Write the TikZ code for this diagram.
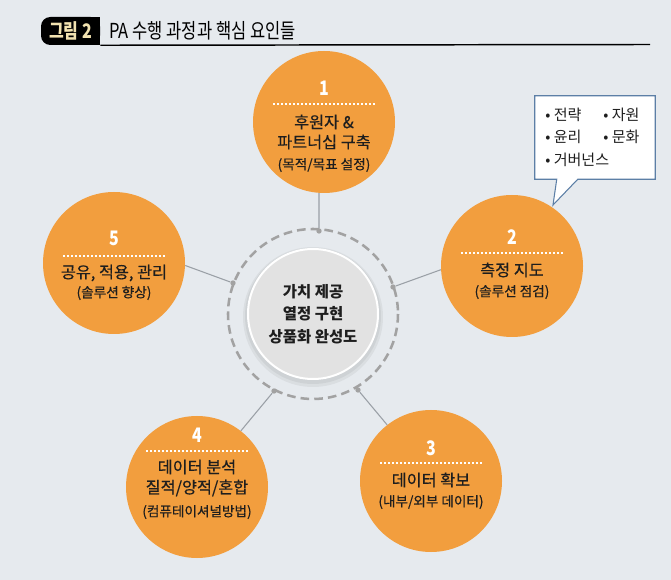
\documentclass[tikz,border=0pt]{standalone}
\usepackage{fontspec}
\setmainfont{Noto Sans CJK KR}
\newfontfamily\condfont{Noto Sans CJK KR}[FakeStretch=0.8]
\newfontfamily\medfont{Noto Sans CJK KR}[FakeBold=0.5]
\usetikzlibrary{calc}
\definecolor{bg}{HTML}{E6EAEE}
\definecolor{orng}{HTML}{F29E3E}
\definecolor{ringgray}{HTML}{A2A2A2}
\definecolor{linegray}{HTML}{9AA0A6}
\definecolor{diskgray}{HTML}{E2E2E2}
\definecolor{callborder}{HTML}{5C7FA6}
\definecolor{tabtext}{HTML}{F2E2B0}
\definecolor{txt}{HTML}{1E1E1E}
\begin{document}
\begin{tikzpicture}[x=0.75pt,y=-0.75pt,
  orb/.style={circle, fill=orng, minimum size=106.5pt, inner sep=0pt},
  numtxt/.style={text=white, font=\condfont\bfseries\fontsize{15}{16}\selectfont, inner sep=0pt},
  maintxt/.style={text=txt, font=\medfont\fontsize{12.2}{14}\selectfont, inner sep=0pt},
  subtxt/.style={text=txt, font=\medfont\fontsize{10.2}{12}\selectfont, inner sep=0pt},
  dotsep/.style={white, line width=1.5pt, dash pattern=on 1.4pt off 1.6pt},
  link/.style={linegray, line width=0.8pt},
  ringdot/.style={circle, fill=ringgray, inner sep=0pt, minimum size=4pt},
  calltext/.style={text=txt, font=\fontsize{11.3}{13}\selectfont, inner sep=0pt, anchor=west}]
\fill[bg] (0,0) rectangle (671,580);
\useasboundingbox (0,0) rectangle (671,580);

% title
\node[fill=black, rounded corners=7pt, minimum width=44.25pt, minimum height=21pt, inner sep=0pt] (tab) at (70.5,31) {};
\fill[black] (tab.north) rectangle (tab.south east);
\node[text=tabtext, font=\condfont\bfseries\fontsize{15}{16}\selectfont, inner sep=0pt] (tabtxt) at (tab.center) {그림 2};
\node[text=black, font=\condfont\fontsize{15.5}{16}\selectfont, inner sep=0pt, anchor=west] (title) at (109,31) {PA 수행 과정과 핵심 요인들};
\coordinate (lineend) at (650,44.5);
\draw[black, line width=1.1pt] (tab.south east) -- (lineend);

% center
\coordinate (ctr) at (313,314);
\fill[black, opacity=0.05] ($(ctr)+(0,3)$) circle[radius=70];
\fill[black, opacity=0.05] ($(ctr)+(0,2)$) circle[radius=68];
\draw[ringgray, line width=1.9pt, dash pattern=on 6.5pt off 3.8pt] (ctr) circle[radius=85];
\node[circle, fill=diskgray, draw=white, line width=1.5pt, minimum size=97.5pt, inner sep=0pt,
      align=center, text=txt, font=\bfseries\fontsize{11.6}{16.8}\selectfont] (disk) at (ctr) {가치 제공\\열정 구현\\상품화 완성도};

% ring dots
\node[ringdot] (d1) at ($(ctr)+(6,-83)$) {};
\node[ringdot] (d2) at ($(ctr)+(80,-27)$) {};
\node[ringdot] (d3) at ($(ctr)+(45,76)$) {};
\node[ringdot] (d4) at ($(ctr)+(-39,77)$) {};
\node[ringdot] (d5) at ($(ctr)+(-80,-31)$) {};

% circles
\node[orb] (c1) at (324,122) {};
\node[orb] (c2) at (512,266) {};
\node[orb] (c3) at (431,481) {};
\node[orb] (c4) at (197,487) {};
\node[orb] (c5) at (114,263) {};

% links
\draw[link] (c1.266) -- (d1);
\draw[link] (c2.183) -- (d2);
\draw[link] (c3.128) -- (d3);
\draw[link] (c4.52) -- (d4);
\draw[link] (c5.358) -- (d5);

% circle 1
\node[numtxt] (n1) at (324,88) {1};
\draw[dotsep] (273,104) -- (375,104);
\node[maintxt] (a1) at (324,122) {후원자 \&};
\node[maintxt] (b1) at (324,142) {파트너십 구축};
\node[subtxt] (e1) at (324,165) {(목적/목표 설정)};

% circle 2
\node[numtxt] (n2) at (512,237) {2};
\draw[dotsep] (461,253) -- (563,253);
\node[maintxt] (a2) at (512,270) {측정 지도};
\node[subtxt] (b2) at (512,292) {(솔루션 점검)};

% circle 3
\node[numtxt] (n3) at (431,448) {3};
\draw[dotsep] (380,463) -- (482,463);
\node[maintxt] (a3) at (431,480) {데이터 확보};
\node[subtxt] (b3) at (431,502) {(내부/외부 데이터)};

% circle 4
\node[numtxt] (n4) at (197,435) {4};
\draw[dotsep] (146,451) -- (248,451);
\node[maintxt] (a4) at (197,467) {데이터 분석};
\node[maintxt] (b4) at (197,488) {질적/양적/혼합};
\node[subtxt] (e4) at (197,512) {(컴퓨테이셔널방법)};

% circle 5
\node[numtxt] (n5) at (114,238) {5};
\draw[dotsep] (63,256) -- (165,256);
\node[maintxt] (a5) at (114,273) {공유, 적용, 관리};
\node[subtxt] (b5) at (114,293) {(솔루션 향상)};

% callout
\node[minimum width=90pt, minimum height=62.25pt, inner sep=0pt] (cb) at (595,137.5) {};
\coordinate (tip) at (553,205);
\filldraw[fill=white, draw=callborder, line width=0.8pt, line join=miter]
  (cb.south west) -- (cb.north west) -- (cb.north east) -- (cb.south east)
  -- ($(cb.south west)+(43,0)$) -- (tip) -- ($(cb.south west)+(22,0)$) -- cycle;
\node[calltext] (t1) at (545,115) {• 전략};
\node[calltext] (t2) at (603,115) {• 자원};
\node[calltext] (t3) at (545,137) {• 윤리};
\node[calltext] (t4) at (603,137) {• 문화};
\node[calltext] (t5) at (545,160) {• 거버넌스};
\end{tikzpicture}
\end{document}
